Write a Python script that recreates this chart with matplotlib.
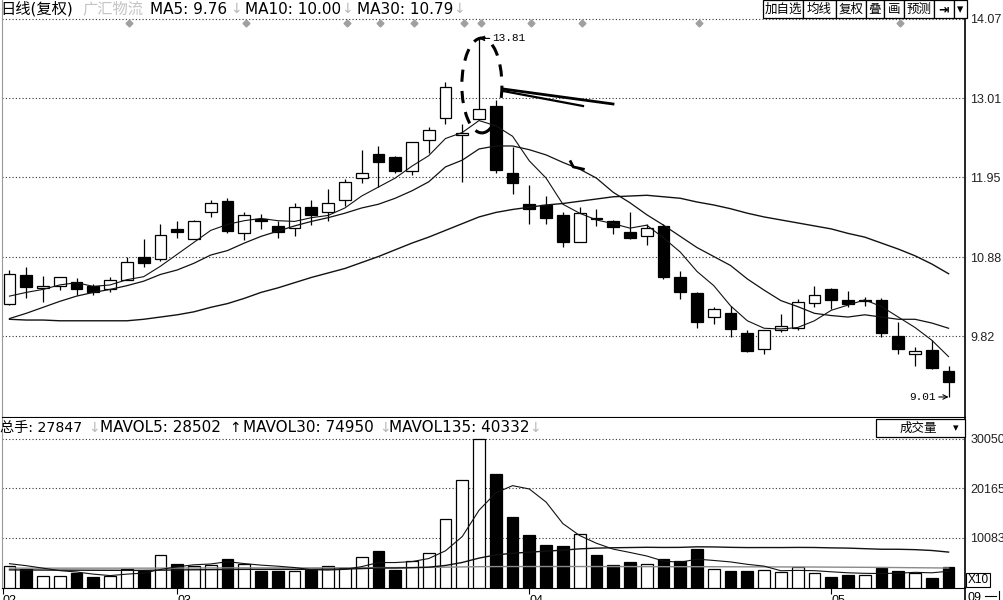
import matplotlib
matplotlib.use('Agg')
import matplotlib.pyplot as plt
from matplotlib.patches import Ellipse, Rectangle
import numpy as np

# ---------------- data ----------------
opens = [10.25, 10.64, 10.47, 10.50, 10.55, 10.49, 10.46, 10.58, 10.88, 10.86,
         11.26, 11.13, 11.48, 11.64, 11.21, 11.39, 11.30, 11.27, 11.55, 11.48,
         11.65, 11.94, 12.26, 12.22, 12.04, 12.45, 12.75, 12.52, 12.73, 12.91,
         12.01, 11.59, 11.58, 11.44, 11.08, 11.41, 11.37, 11.22, 11.17, 11.30,
         10.62, 10.40, 10.08, 10.14, 9.86, 9.65, 9.91, 9.94, 10.27, 10.46,
         10.31, 10.29, 10.31, 9.83, 9.59, 9.64, 9.36]
highs = [10.71, 10.75, 10.63, 10.62, 10.60, 10.52, 10.61, 10.88, 11.12, 11.32,
         11.36, 11.38, 11.65, 11.68, 11.48, 11.46, 11.37, 11.61, 11.65, 11.79,
         11.93, 12.31, 12.37, 12.23, 12.42, 12.63, 13.22, 12.66, 13.81, 12.98,
         12.35, 11.85, 11.70, 11.48, 11.55, 11.53, 11.38, 11.48, 11.33, 11.33,
         10.70, 10.42, 10.22, 10.23, 9.91, 9.90, 10.12, 10.32, 10.49, 10.47,
         10.43, 10.35, 10.34, 10.01, 9.68, 9.77, 9.42]
lows = [10.24, 10.34, 10.28, 10.44, 10.37, 10.38, 10.41, 10.57, 10.75, 10.83,
        11.14, 11.12, 11.42, 11.20, 11.11, 11.26, 11.14, 11.16, 11.31, 11.36,
        11.57, 11.87, 11.82, 12.01, 11.98, 12.27, 12.66, 11.89, 12.72, 12.01,
        11.73, 11.32, 11.33, 11.02, 11.08, 11.30, 11.19, 11.12, 11.04, 10.59,
        10.32, 9.94, 9.99, 9.81, 9.61, 9.58, 9.88, 9.90, 10.22, 10.19,
        10.22, 10.23, 9.81, 9.59, 9.42, 9.38, 9.01]
closes = [10.66, 10.48, 10.49, 10.61, 10.46, 10.42, 10.57, 10.82, 10.81, 11.18,
          11.22, 11.37, 11.61, 11.23, 11.44, 11.37, 11.22, 11.55, 11.45, 11.60,
          11.89, 12.01, 12.15, 12.04, 12.42, 12.58, 13.16, 12.54, 12.86, 12.05,
          11.87, 11.53, 11.41, 11.08, 11.47, 11.39, 11.29, 11.14, 11.27, 10.61,
          10.42, 10.01, 10.19, 9.92, 9.62, 9.90, 9.96, 10.28, 10.38, 10.31,
          10.26, 10.31, 9.86, 9.65, 9.63, 9.40, 9.21]

ma5 = [10.36, 10.41, 10.45, 10.51, 10.54, 10.49, 10.51, 10.58, 10.62, 10.76,
       10.92, 11.08, 11.24, 11.32, 11.37, 11.40, 11.37, 11.36, 11.41, 11.44,
       11.54, 11.70, 11.82, 11.94, 12.10, 12.24, 12.47, 12.55, 12.71, 12.64,
       12.50, 12.17, 11.94, 11.59, 11.47, 11.38, 11.33, 11.27, 11.31, 11.14,
       10.95, 10.69, 10.50, 10.23, 10.03, 9.93, 9.92, 9.94, 10.03, 10.17,
       10.24, 10.31, 10.22, 10.08, 9.94, 9.77, 9.55]
ma10 = [10.06, 10.13, 10.21, 10.29, 10.36, 10.41, 10.45, 10.50, 10.56, 10.65,
        10.71, 10.80, 10.91, 10.97, 11.07, 11.16, 11.23, 11.30, 11.36, 11.41,
        11.47, 11.54, 11.59, 11.67, 11.77, 11.89, 12.09, 12.18, 12.33, 12.37,
        12.37, 12.32, 12.25, 12.15, 12.06, 11.94, 11.75, 11.61, 11.45, 11.31,
        11.16, 11.01, 10.89, 10.77, 10.59, 10.44, 10.30, 10.22, 10.13, 10.10,
        10.08, 10.11, 10.08, 10.05, 10.05, 10.00, 9.93]
ma30 = [10.05, 10.04, 10.04, 10.03, 10.03, 10.03, 10.03, 10.03, 10.05, 10.08,
        10.11, 10.15, 10.21, 10.26, 10.33, 10.41, 10.47, 10.54, 10.61, 10.67,
        10.73, 10.81, 10.89, 10.98, 11.07, 11.15, 11.24, 11.33, 11.42, 11.48,
        11.52, 11.55, 11.58, 11.60, 11.63, 11.66, 11.69, 11.70, 11.71, 11.69,
        11.67, 11.62, 11.58, 11.53, 11.47, 11.42, 11.38, 11.34, 11.30, 11.26,
        11.20, 11.15, 11.07, 10.99, 10.90, 10.79, 10.66]

volumes = [4370, 3900, 2420, 2420, 3030, 2220, 2420, 3900, 3430, 6720,
           4910, 4440, 4710, 5780, 4770, 3360, 3360, 3360, 3560, 4440,
           4030, 6180, 7460, 3560, 5380, 7130, 13980, 21850, 30050, 22930,
           14390, 10620, 8610, 8400, 10890, 6590, 4710, 5240, 4840, 5780,
           5380, 7870, 3900, 3360, 3360, 3560, 3230, 4240, 3090, 2220,
           2560, 2690, 4030, 3430, 3090, 2085, 4240]
mavol5 = [4900, 4500, 4000, 3500, 3228, 2798, 2502, 2798, 3000, 3738,
          4276, 4680, 4842, 5312, 4922, 4612, 4396, 4126, 3682, 3616,
          3750, 4314, 5134, 5134, 5322, 5942, 7502, 10380, 15678, 19188,
          20640, 19968, 17320, 12990, 10582, 9022, 7840, 7166, 6454, 5432,
          5190, 5822, 5554, 5258, 4774, 4410, 3482, 3550, 3496, 3268,
          3068, 2960, 2918, 2986, 3160, 3065, 3375]
mavol30 = [3650, 3640, 3620, 3600, 3590, 3580, 3570, 3560, 3560, 3600,
           3640, 3680, 3700, 3740, 3760, 3760, 3760, 3760, 3770, 3800,
           3830, 3910, 4030, 4030, 4090, 4200, 4545, 5150, 6030, 6669,
           7003, 7227, 7433, 7633, 7895, 8040, 8117, 8161, 8208, 8177,
           8193, 8307, 8280, 8199, 8152, 8159, 8155, 8184, 8168, 8094,
           8045, 7929, 7815, 7810, 7734, 7566, 7241]
mavol135 = [4000, 4000, 4000, 4000, 4000, 4000, 4000, 4000, 4000, 4010,
            4020, 4030, 4040, 4050, 4060, 4060, 4060, 4060, 4060, 4070,
            4080, 4090, 4110, 4120, 4130, 4150, 4200, 4250, 4300, 4320,
            4330, 4330, 4330, 4330, 4330, 4330, 4320, 4320, 4310, 4300,
            4300, 4300, 4290, 4280, 4270, 4260, 4250, 4240, 4230, 4210,
            4190, 4170, 4150, 4120, 4090, 4060, 4030]

price_ticks = [9.82, 10.88, 11.95, 13.01, 14.07]
price_tick_labels = ['9.82', '10.88', '11.95', '13.01', '14.07']
vol_ticks = [10083, 20165, 30050]
vol_tick_labels = ['10083', '20165', '30050']
month_pos = [-0.4, 10, 31, 49]
month_labels = ['02', '03', '04', '05']
info_days = [7, 14, 20, 22, 24, 27, 28, 31, 34, 41, 53]
high_mark = (28, 13.81)
low_mark = (56, 9.01)

# ---------------- layout ----------------
W, H = 1004, 600
fig = plt.figure(figsize=(W / 100, H / 100), dpi=100)
fig.patch.set_facecolor('white')


def frac_rect(l, t, r, b):
    return [l / W, 1 - b / H, (r - l) / W, (b - t) / H]


axp = fig.add_axes(frac_rect(2, 0, 965, 417))
axv = fig.add_axes(frac_rect(2, 418, 965, 588))
ov = fig.add_axes([0, 0, 1, 1])
ov.set_xlim(0, W)
ov.set_ylim(H, 0)
ov.axis('off')
ov.patch.set_alpha(0)

n = len(closes)
x = np.arange(n)
xlim = (-0.447, 56.98)
BW = 0.7
mixed = ['DejaVu Sans', 'Noto Sans CJK SC']

# ---------------- price panel ----------------
axp.set_xlim(*xlim)
axp.set_ylim(8.742, 14.324)
for i in range(n):
    up = closes[i] >= opens[i]
    axp.vlines(x[i], lows[i], highs[i], color='black', lw=0.9, zorder=3)
    bot = min(opens[i], closes[i])
    hgt = abs(closes[i] - opens[i])
    axp.bar(x[i], hgt, bottom=bot, width=BW,
            facecolor='white' if up else 'black', edgecolor='black',
            lw=0.9, zorder=4)

axp.plot(x, ma5, color='#111111', lw=0.8, zorder=5)
axp.plot(x, ma10, color='#111111', lw=0.9, zorder=5)
axp.plot(x, ma30, color='#111111', lw=1.0, zorder=5)

axp.set_yticks(price_ticks)
axp.set_yticklabels(price_tick_labels)
axp.yaxis.tick_right()
axp.tick_params(axis='y', length=0, pad=4, labelsize=9, labelcolor='#222222')
for lab in axp.get_yticklabels():
    lab.set_fontfamily('Liberation Sans')
axp.set_xticks([])
axp.grid(axis='y', linestyle=(0, (1, 2)), color='#333333', lw=0.8)
axp.spines['top'].set_visible(False)
axp.spines['left'].set_color('#999999')
axp.spines['right'].set_color('black')
axp.spines['right'].set_linewidth(1.2)
axp.spines['bottom'].set_color('black')

# info-mine diamonds
axp.plot(np.array(info_days) + 0.12, [14.01] * len(info_days), 'D',
         color='#a0a0a0', ms=3.5, zorder=6)

# annotations
axp.annotate('13.81', xy=high_mark, xytext=(high_mark[0] + 0.8, high_mark[1]),
             ha='left', va='center', fontsize=8, family='Liberation Mono',
             arrowprops=dict(arrowstyle='->', lw=0.8, color='black',
                             shrinkA=0, shrinkB=0), zorder=7)
axp.annotate('9.01', xy=low_mark, xytext=(low_mark[0] - 0.75, low_mark[1]),
             ha='right', va='center', fontsize=8, family='Liberation Mono',
             arrowprops=dict(arrowstyle='->', lw=0.8, color='black',
                             shrinkA=0, shrinkB=0), zorder=7)
axp.add_patch(Ellipse((28.17, 13.18), 2.39, 1.27, fill=False, lw=2.2,
                      ls=(0, (4, 3)), edgecolor='black', zorder=8))
axp.plot([29.43, 35.99], [13.133, 12.932], color='black', lw=2.0, zorder=8)
axp.plot([29.43, 34.2], [13.106, 12.905], color='black', lw=1.6, zorder=8)
axp.plot([33.46, 33.62, 34.22], [12.16, 12.09, 12.06], color='black', lw=2.0,
         zorder=8)

# ---------------- volume panel ----------------
axv.set_xlim(*xlim)
axv.set_ylim(0, 34282)
for i in range(n):
    up = closes[i] >= opens[i]
    axv.bar(x[i], volumes[i], width=BW,
            facecolor='white' if up else 'black', edgecolor='black',
            lw=0.9, zorder=3)
axv.plot(x, mavol135, color='#8a8a8a', lw=1.0, zorder=4)
axv.plot(x, mavol30, color='#111111', lw=1.0, zorder=4)
axv.plot(x, mavol5, color='#111111', lw=0.8, zorder=4)

axv.set_yticks(vol_ticks)
axv.set_yticklabels(vol_tick_labels)
axv.yaxis.tick_right()
axv.tick_params(axis='y', length=0, pad=4, labelsize=9, labelcolor='#222222')
for lab in axv.get_yticklabels():
    lab.set_fontfamily('Liberation Sans')
axv.set_xticks(month_pos)
axv.set_xticklabels(month_labels)
axv.tick_params(axis='x', length=4, width=0.8, pad=1, labelsize=9)
for lab in axv.get_xticklabels():
    lab.set_horizontalalignment('left')
    lab.set_fontfamily('Liberation Sans')
axv.grid(axis='y', linestyle=(0, (1, 2)), color='#333333', lw=0.8)
axv.spines['top'].set_visible(False)
axv.spines['left'].set_color('#999999')
axv.spines['right'].set_color('black')
axv.spines['right'].set_linewidth(1.2)
axv.spines['bottom'].set_color('black')

# ---------------- overlay texts ----------------
hy = 9
ov.text(0, hy, '日线(复权)', fontsize=11, family=mixed, va='center', ha='left')
ov.text(82, hy, '广汇物流', fontsize=11, family=mixed, va='center', ha='left',
        color='#c4c4c4')
ov.text(150, hy, 'MA5: 9.76', fontsize=11, family=mixed, va='center', ha='left')
ov.text(230, hy, '↓', fontsize=10, family=mixed, va='center', ha='left', color='#b8b8b8')
ov.text(245, hy, 'MA10: 10.00', fontsize=11, family=mixed, va='center', ha='left')
ov.text(341, hy, '↓', fontsize=10, family=mixed, va='center', ha='left', color='#b8b8b8')
ov.text(357, hy, 'MA30: 10.79', fontsize=11, family=mixed, va='center', ha='left')
ov.text(453, hy, '↓', fontsize=10, family=mixed, va='center', ha='left', color='#b8b8b8')

vy = 428
ov.text(0, vy, '总手: 27847', fontsize=10.2, family=mixed, va='center', ha='left')
ov.text(88, vy, '↓', fontsize=10, family=mixed, va='center', ha='left', color='#b8b8b8')
ov.text(100, vy, 'MAVOL5: 28502', fontsize=11, family=mixed, va='center', ha='left')
ov.text(229, vy, '↑', fontsize=10, family=mixed, va='center', ha='left', color='black')
ov.text(243, vy, 'MAVOL30: 74950', fontsize=11, family=mixed, va='center', ha='left')
ov.text(379, vy, '↓', fontsize=10, family=mixed, va='center', ha='left', color='#b8b8b8')
ov.text(389, vy, 'MAVOL135: 40332', fontsize=11, family=mixed, va='center', ha='left')
ov.text(529, vy, '↓', fontsize=10, family=mixed, va='center', ha='left', color='#b8b8b8')

# toolbar buttons
buttons = [(763, 803, '加自选'), (803, 836, '均线'), (836, 866, '复权'),
           (866, 884, '叠'), (884, 904, '画'), (904, 934, '预测'),
           (934, 954, '⇥'), (954, 967, '▾')]
for l, r, t in buttons:
    ov.add_patch(Rectangle((l, 0), r - l, 18, fill=True, facecolor='white',
                           edgecolor='black', lw=0.9))
    ov.text((l + r) / 2, 9.5, t, fontsize=9, family=['Noto Sans CJK SC', 'DejaVu Sans'],
            ha='center', va='center', weight='bold' if t == '⇥' else 'normal')

# volume selector box
ov.add_patch(Rectangle((876, 419), 89, 18, fill=True, facecolor='white',
                       edgecolor='black', lw=0.9))
ov.text(918, 428.5, '成交量', fontsize=9, family=['Noto Sans CJK SC', 'DejaVu Sans'],
        ha='center', va='center')
ov.text(956, 428, '▾', fontsize=8, family='DejaVu Sans', ha='center', va='center')

# X10 box and bottom right bits
ov.text(978, 580, 'X10', fontsize=8.5, family='Liberation Sans', ha='center',
        va='center', bbox=dict(boxstyle='square,pad=0.12', fc='white', ec='black', lw=0.8))
ov.plot([965.5, 965.5], [588, 600], color='black', lw=1.2)
ov.text(968, 592, '09', fontsize=9, family='Liberation Sans', ha='left', va='top')
ov.plot([985, 996], [596, 596], color='black', lw=0.8)
ov.plot([999, 999], [591, 600], color='black', lw=0.8)

fig.savefig('out.png', dpi=100, facecolor='white')
